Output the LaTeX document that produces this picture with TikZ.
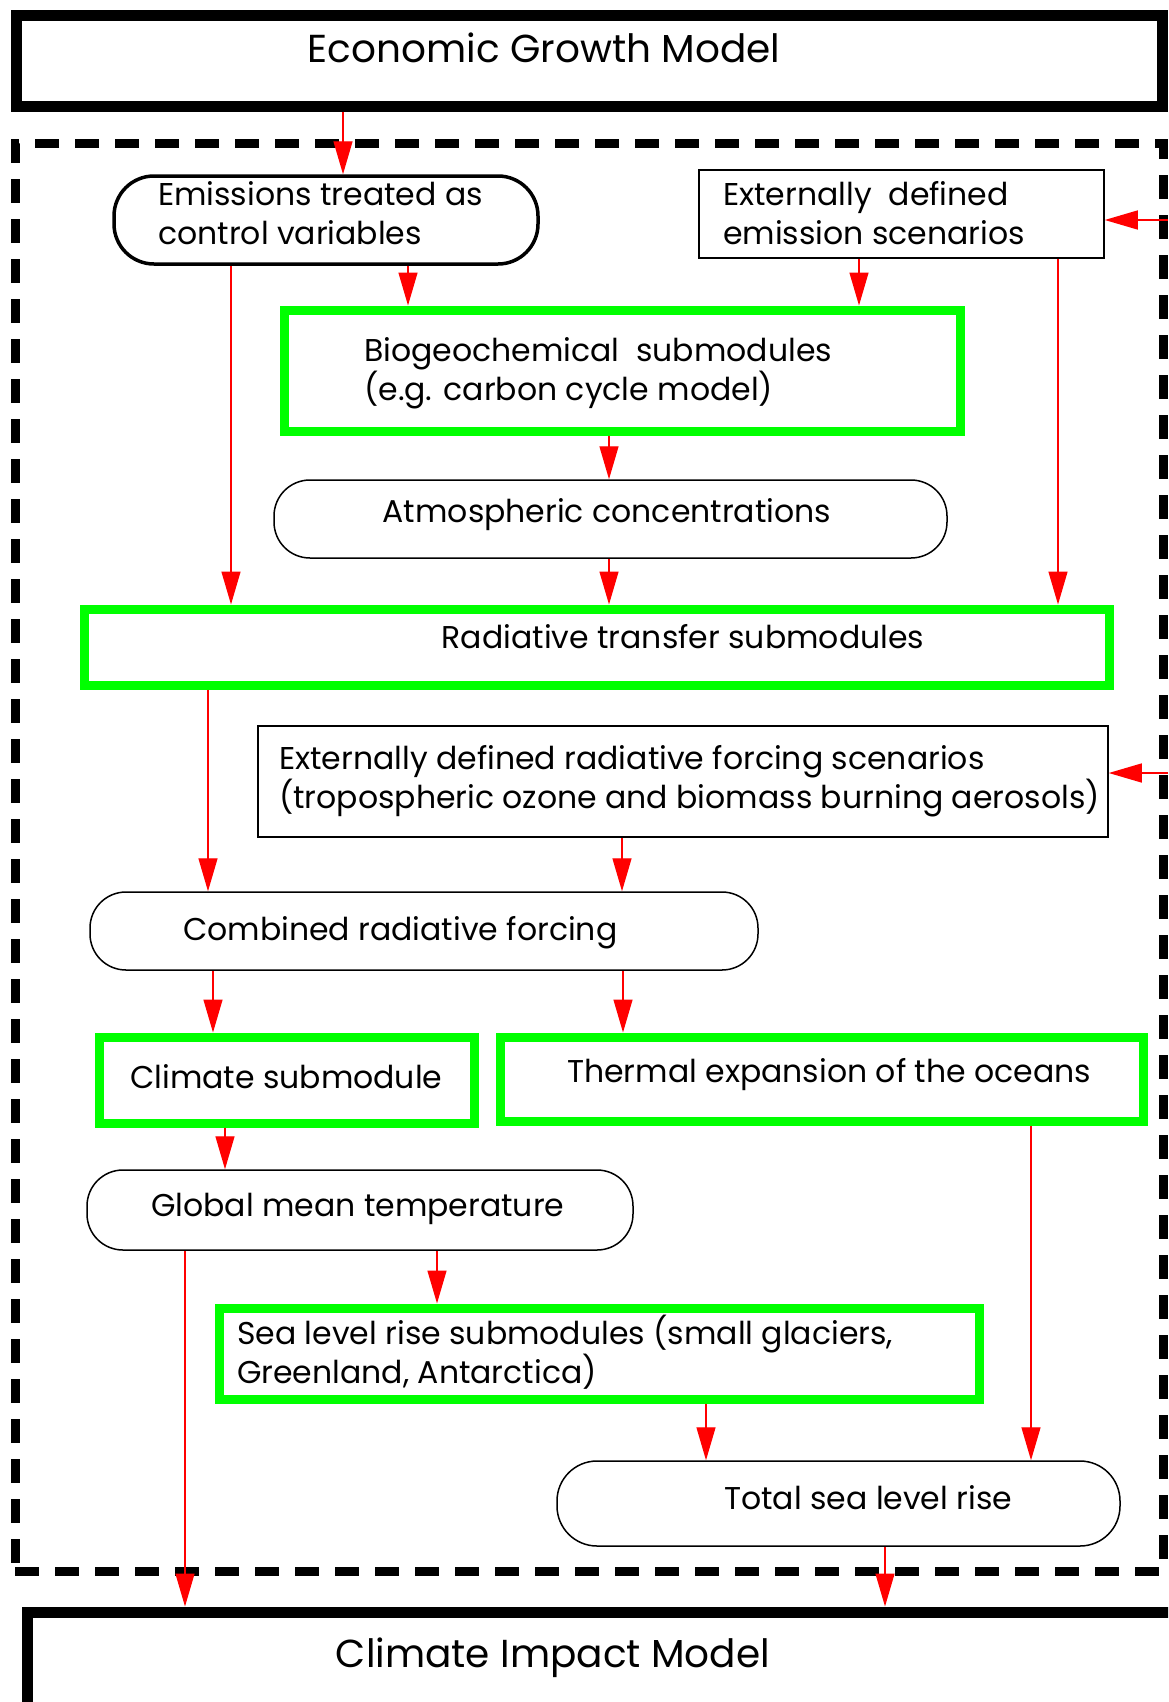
\documentclass[tikz,border=0pt]{standalone}
\usepackage{fontspec}
\setmainfont{Poppins}
\usetikzlibrary{arrows.meta}
\definecolor{vgreen}{RGB}{0,255,0}
\definecolor{vred}{RGB}{255,0,0}
\begin{document}
\begin{tikzpicture}[x=1pt,y=-1pt,
  body/.style={font=\fontsize{31.5}{39}\selectfont, inner sep=0pt, align=left},
  ttl/.style={font=\fontsize{39}{46}\selectfont, inner sep=0pt},
  plainbox/.style={draw=black, line width=1.5pt, inner sep=0pt},
  greenbox/.style={draw=vgreen, line width=9pt, inner sep=0pt},
  heavybox/.style={draw=black, line width=11pt, inner sep=0pt},
  stadium/.style={draw=black, line width=1.5pt, inner sep=0pt, rounded corners=36pt},
  arr/.style={draw=vred, line width=1.4pt, -{Triangle[length=33pt,width=19pt]}}
]
\useasboundingbox (0,0) rectangle (1168,1702);
\clip (0,0) rectangle (1168,1702);
\fill[white] (0,0) rectangle (1168,1702);

% frames
\node[heavybox, minimum width=1146pt, minimum height=90pt] (econ) at (589,61) {};
\node[ttl] (econt) at (544,48) {Economic Growth Model};
\node[draw=black, line width=9pt, dash pattern=on 24pt off 16pt, inner sep=0pt,
      minimum width=1148pt, minimum height=1428pt] (frame) at (589,857) {};
\node[heavybox, minimum width=1153pt, minimum height=108pt] (impact) at (603.5,1666) {};
\node[ttl] (impactt) at (553,1658) {Climate Impact Model};

% boxes
\node[stadium, line width=3.5pt, minimum width=424pt, minimum height=88pt, rounded corners=40pt] (emis) at (326,220) {};
\node[body, anchor=west] (emist) at (158,213.5) {Emissions treated as\\control variables};

\node[plainbox, minimum width=405pt, minimum height=88pt] (extem) at (901.5,214) {};
\node[body, anchor=west] (extemt) at (723,213.5) {Externally\ \ defined\\emission scenarios};

\node[greenbox, minimum width=676pt, minimum height=121pt] (bio) at (622,370.5) {};
\node[body, anchor=west] (biot) at (364,373.5) {Biogeochemical\ \ submodules\\(e.g. carbon cycle model)};

\node[stadium, minimum width=673pt, minimum height=78pt] (atm) at (610.5,519) {};
\node[body] (atmt) at (607,515) {Atmospheric concentrations};

\node[greenbox, minimum width=1025pt, minimum height=76pt] (rad) at (596.5,647) {};
\node[body] (radt) at (683,637) {Radiative transfer submodules};

\node[plainbox, minimum width=850pt, minimum height=111pt] (extrad) at (683,781.5) {};
\node[body, anchor=west] (extradt) at (279,781) {Externally defined radiative forcing scenarios\\(tropospheric ozone and biomass burning aerosols)};

\node[stadium, minimum width=668pt, minimum height=78pt] (comb) at (424,931) {};
\node[body, anchor=west] (combt) at (183,933) {Combined radiative forcing};

\node[greenbox, minimum width=375pt, minimum height=86pt] (clim) at (286.5,1080) {};
\node[body, anchor=west] (climt) at (130,1077) {Climate submodule};

\node[greenbox, minimum width=643pt, minimum height=84pt] (therm) at (821.5,1079) {};
\node[body, anchor=west] (thermt) at (567,1075) {Thermal expansion of the oceans};

\node[stadium, minimum width=546pt, minimum height=80pt] (glob) at (360,1210) {};
\node[body, anchor=west] (globt) at (151,1209) {Global mean temperature};

\node[greenbox, minimum width=760pt, minimum height=91pt] (sea) at (599,1353.5) {};
\node[body, anchor=west] (seat) at (237,1352.5) {Sea level rise submodules (small glaciers,\\Greenland, Antarctica)};

\node[stadium, minimum width=563pt, minimum height=85pt, rounded corners=40pt] (total) at (838.5,1503.5) {};
\node[body, anchor=west] (totalt) at (724,1498) {Total sea level rise};

% free ends on the right
\coordinate (in1) at (1168,220);
\coordinate (in2) at (1168,773);

% connectors
\draw[arr] (343,0 |- econ.south) -- (343,0 |- emis.north);
\draw[arr] (408,0 |- emis.south) -- (408,0 |- bio.north);
\draw[arr] (859,0 |- extem.south) -- (859,0 |- bio.north);
\draw[arr] (231,0 |- emis.south) -- (231,0 |- rad.north);
\draw[arr] (1058,0 |- extem.south) -- (1058,0 |- rad.north);
\draw[arr] (609,0 |- bio.south) -- (609,0 |- atm.north);
\draw[arr] (609,0 |- atm.south) -- (609,0 |- rad.north);
\draw[arr] (208,0 |- rad.south) -- (208,0 |- comb.north);
\draw[arr] (622,0 |- extrad.south) -- (622,0 |- comb.north);
\draw[arr] (213,0 |- comb.south) -- (213,0 |- clim.north);
\draw[arr] (623,0 |- comb.south) -- (623,0 |- therm.north);
\draw[arr] (225,0 |- clim.south) -- (225,0 |- glob.north);
\draw[arr] (437,0 |- glob.south) -- (437,0 |- sea.north);
\draw[arr] (185,0 |- glob.south) -- (185,0 |- impact.north);
\draw[arr] (706,0 |- sea.south) -- (706,0 |- total.north);
\draw[arr] (1031,0 |- therm.south) -- (1031,0 |- total.north);
\draw[arr] (885,0 |- total.south) -- (885,0 |- impact.north);
\draw[arr] (in1) -- (extem.east |- in1);
\draw[arr] (in2) -- (extrad.east |- in2);
\end{tikzpicture}
\end{document}
